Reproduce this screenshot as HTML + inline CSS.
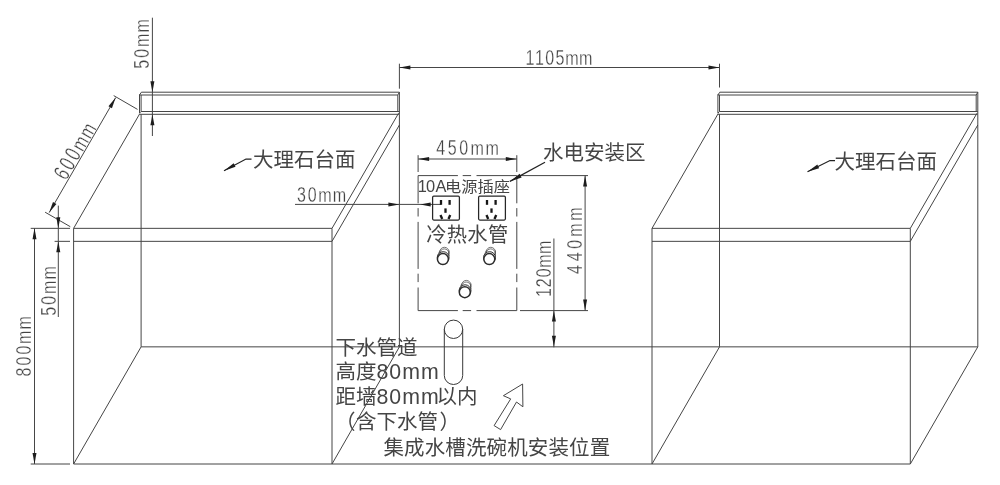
<!DOCTYPE html>
<html lang="zh"><head><meta charset="utf-8"><title>安装示意图</title>
<style>
html,body{margin:0;padding:0;background:#fff;}
body{width:1000px;height:485px;overflow:hidden;}
svg{display:block;filter:grayscale(1);}
text.c{font-family:"Liberation Sans","Noto Sans CJK SC",sans-serif;fill:#454545;}
text.d{font-family:"Liberation Sans",sans-serif;fill:#42424a;stroke:#fff;stroke-width:0.3px;paint-order:fill stroke;}
</style></head><body>
<svg width="1000" height="485" viewBox="0 0 1000 485">
<rect width="1000" height="485" fill="#fff"/>
<path d="M139.5,95.0 L141.4,92.2 H399.4 V114.3" stroke="#45454d" stroke-width="1.0" fill="none" />
<line x1="139.5" y1="95.0" x2="397.79999999999995" y2="95.0" stroke="#45454d" stroke-width="1.0" />
<line x1="139.5" y1="94.5" x2="139.5" y2="113.1" stroke="#45454d" stroke-width="1.0" />
<line x1="141.1" y1="95.0" x2="141.1" y2="111.5" stroke="#45454d" stroke-width="1.0" />
<line x1="397.79999999999995" y1="95.0" x2="397.79999999999995" y2="111.5" stroke="#45454d" stroke-width="1.0" />
<line x1="141.1" y1="111.5" x2="399.4" y2="111.5" stroke="#45454d" stroke-width="1.0" />
<line x1="139.5" y1="114.3" x2="399.4" y2="114.3" stroke="#45454d" stroke-width="1.0" />
<line x1="397.79999999999995" y1="95.0" x2="399.4" y2="92.2" stroke="#45454d" stroke-width="1.0" />
<line x1="139.5" y1="113.1" x2="141.1" y2="111.5" stroke="#45454d" stroke-width="1.0" />
<path d="M717.9,95.0 L719.8,92.2 H977.8 V114.3" stroke="#45454d" stroke-width="1.0" fill="none" />
<line x1="717.9" y1="95.0" x2="976.1999999999999" y2="95.0" stroke="#45454d" stroke-width="1.0" />
<line x1="717.9" y1="94.5" x2="717.9" y2="113.1" stroke="#45454d" stroke-width="1.0" />
<line x1="719.5" y1="95.0" x2="719.5" y2="111.5" stroke="#45454d" stroke-width="1.0" />
<line x1="976.1999999999999" y1="95.0" x2="976.1999999999999" y2="111.5" stroke="#45454d" stroke-width="1.0" />
<line x1="719.5" y1="111.5" x2="977.8" y2="111.5" stroke="#45454d" stroke-width="1.0" />
<line x1="717.9" y1="114.3" x2="977.8" y2="114.3" stroke="#45454d" stroke-width="1.0" />
<line x1="976.1999999999999" y1="95.0" x2="977.8" y2="92.2" stroke="#45454d" stroke-width="1.0" />
<line x1="717.9" y1="113.1" x2="719.5" y2="111.5" stroke="#45454d" stroke-width="1.0" />
<line x1="139.79999999999998" y1="113.6" x2="73.6" y2="228.35" stroke="#45454d" stroke-width="1.0" />
<line x1="73.6" y1="228.35" x2="332.0" y2="228.35" stroke="#45454d" stroke-width="1.0" />
<line x1="73.6" y1="241.35" x2="332.0" y2="241.35" stroke="#45454d" stroke-width="1.0" />
<line x1="73.6" y1="228.35" x2="73.6" y2="464.0" stroke="#45454d" stroke-width="1.0" />
<line x1="332.0" y1="228.35" x2="332.0" y2="464.0" stroke="#45454d" stroke-width="1.0" />
<line x1="398.59999999999997" y1="113.2" x2="332.0" y2="228.35" stroke="#45454d" stroke-width="1.0" />
<line x1="399.4" y1="125.0" x2="332.0" y2="241.35" stroke="#45454d" stroke-width="1.0" />
<line x1="141.1" y1="114.3" x2="141.1" y2="346.85" stroke="#45454d" stroke-width="1.0" />
<line x1="399.4" y1="114.3" x2="399.4" y2="346.85" stroke="#45454d" stroke-width="1.0" />
<line x1="141.1" y1="346.85" x2="73.6" y2="464.0" stroke="#45454d" stroke-width="1.0" />
<line x1="399.4" y1="346.85" x2="332.0" y2="464.0" stroke="#45454d" stroke-width="1.0" />
<line x1="718.2" y1="113.6" x2="652.0" y2="228.35" stroke="#45454d" stroke-width="1.0" />
<line x1="652.0" y1="228.35" x2="910.3" y2="228.35" stroke="#45454d" stroke-width="1.0" />
<line x1="652.0" y1="241.35" x2="910.3" y2="241.35" stroke="#45454d" stroke-width="1.0" />
<line x1="652.0" y1="228.35" x2="652.0" y2="464.0" stroke="#45454d" stroke-width="1.0" />
<line x1="910.3" y1="228.35" x2="910.3" y2="464.0" stroke="#45454d" stroke-width="1.0" />
<line x1="977.0" y1="113.2" x2="910.3" y2="228.35" stroke="#45454d" stroke-width="1.0" />
<line x1="977.8" y1="125.0" x2="910.3" y2="241.35" stroke="#45454d" stroke-width="1.0" />
<line x1="719.5" y1="114.3" x2="719.5" y2="346.85" stroke="#45454d" stroke-width="1.0" />
<line x1="977.8" y1="114.3" x2="977.8" y2="346.85" stroke="#45454d" stroke-width="1.0" />
<line x1="719.5" y1="346.85" x2="652.0" y2="464.0" stroke="#45454d" stroke-width="1.0" />
<line x1="977.8" y1="346.85" x2="910.3" y2="464.0" stroke="#45454d" stroke-width="1.0" />
<line x1="141.1" y1="346.85" x2="977.8" y2="346.85" stroke="#45454d" stroke-width="1.0" />
<line x1="73.6" y1="464.0" x2="910.3" y2="464.0" stroke="#45454d" stroke-width="1.0" />
<line x1="152.4" y1="17.7" x2="152.4" y2="136.0" stroke="#45454d" stroke-width="1.0" />
<polygon points="152.40,92.20 150.40,81.20 154.40,81.20" fill="#1c1c26"/>
<polygon points="152.40,114.30 154.40,125.30 150.40,125.30" fill="#1c1c26"/>
<g transform="translate(149.00,68.00) rotate(-90)"><text class="d" transform="scale(0.7,1)" font-size="22.9" x="-0.92 14.79" y="0">50</text><text class="d" transform="scale(0.783,1)" font-size="20.6" x="26.75 45.50" y="0">mm</text></g>
<line x1="49.2" y1="212.6" x2="115.7" y2="97.6" stroke="#45454d" stroke-width="1.0" />
<polygon points="115.70,97.60 111.93,108.13 108.47,106.13" fill="#1c1c26"/>
<polygon points="49.20,212.60 52.97,202.07 56.43,204.07" fill="#1c1c26"/>
<line x1="113.7" y1="95.6" x2="137.5" y2="109.4" stroke="#45454d" stroke-width="1.0" />
<line x1="45.1" y1="212.2" x2="70.3" y2="226.7" stroke="#45454d" stroke-width="1.0" />
<g transform="translate(66.60,180.50) rotate(-60)"><text class="d" transform="scale(0.7,1)" font-size="22.9" x="-1.16 14.73 30.74" y="0">600</text><text class="d" transform="scale(0.783,1)" font-size="20.6" x="41.23 60.19" y="0">mm</text></g>
<line x1="58.3" y1="205.6" x2="58.3" y2="317.0" stroke="#45454d" stroke-width="1.0" />
<polygon points="58.30,228.35 56.30,217.35 60.30,217.35" fill="#1c1c26"/>
<polygon points="58.30,241.35 60.30,252.35 56.30,252.35" fill="#1c1c26"/>
<line x1="30.7" y1="228.35" x2="70.0" y2="228.35" stroke="#45454d" stroke-width="1.0" />
<line x1="54.6" y1="241.35" x2="70.0" y2="241.35" stroke="#45454d" stroke-width="1.0" />
<g transform="translate(55.50,315.00) rotate(-90)"><text class="d" transform="scale(0.7,1)" font-size="22.9" x="-0.92 14.79" y="0">50</text><text class="d" transform="scale(0.783,1)" font-size="20.6" x="26.75 45.50" y="0">mm</text></g>
<line x1="34.5" y1="228.35" x2="34.5" y2="464.0" stroke="#45454d" stroke-width="1.0" />
<polygon points="34.50,228.35 36.50,239.35 32.50,239.35" fill="#1c1c26"/>
<polygon points="34.50,464.00 32.50,453.00 36.50,453.00" fill="#1c1c26"/>
<line x1="30.7" y1="464.0" x2="70.0" y2="464.0" stroke="#45454d" stroke-width="1.0" />
<g transform="translate(31.00,375.70) rotate(-90)"><text class="d" transform="scale(0.7,1)" font-size="22.9" x="-1.00 14.58 30.26" y="0">800</text><text class="d" transform="scale(0.783,1)" font-size="20.6" x="40.50 59.17" y="0">mm</text></g>
<line x1="399.4" y1="63.7" x2="399.4" y2="88.7" stroke="#45454d" stroke-width="1.0" />
<line x1="719.5" y1="63.7" x2="719.5" y2="87.5" stroke="#45454d" stroke-width="1.0" />
<line x1="399.4" y1="67.5" x2="719.5" y2="67.5" stroke="#45454d" stroke-width="1.0" />
<polygon points="399.40,67.50 410.40,65.50 410.40,69.50" fill="#1c1c26"/>
<polygon points="719.50,67.50 708.50,69.50 708.50,65.50" fill="#1c1c26"/>
<g transform="translate(526.70,64.50) rotate(0)"><text class="d" transform="scale(0.7,1)" font-size="22.9" x="-1.74 11.87 26.34 41.01" y="0">1105</text><text class="d" transform="scale(0.783,1)" font-size="20.6" x="49.17 66.96" y="0">mm</text></g>
<line x1="418.1" y1="155.2" x2="418.1" y2="172.0" stroke="#45454d" stroke-width="1.0" />
<line x1="516.8" y1="155.2" x2="516.8" y2="172.0" stroke="#45454d" stroke-width="1.0" />
<line x1="418.1" y1="159.0" x2="516.8" y2="159.0" stroke="#45454d" stroke-width="1.0" />
<polygon points="418.10,159.00 429.10,157.00 429.10,161.00" fill="#1c1c26"/>
<polygon points="516.80,159.00 505.80,161.00 505.80,157.00" fill="#1c1c26"/>
<g transform="translate(436.50,155.20) rotate(0)"><text class="d" transform="scale(0.7,1)" font-size="22.9" x="-0.53 16.18 32.61" y="0">450</text><text class="d" transform="scale(0.783,1)" font-size="20.6" x="43.34 62.74" y="0">mm</text></g>
<line x1="295.0" y1="204.4" x2="441.0" y2="204.4" stroke="#45454d" stroke-width="1.0" />
<polygon points="399.40,204.40 388.40,206.40 388.40,202.40" fill="#1c1c26"/>
<polygon points="420.20,204.40 430.70,202.40 430.70,206.40" fill="#1c1c26"/>
<g transform="translate(297.50,201.60) rotate(0)"><text class="d" transform="scale(0.7,1)" font-size="22.9" x="-0.87 14.65" y="0">30</text><text class="d" transform="scale(0.783,1)" font-size="20.6" x="26.50 45.12" y="0">mm</text></g>
<line x1="518.6" y1="175.6" x2="588.0" y2="175.6" stroke="#45454d" stroke-width="1.0" />
<line x1="520.0" y1="310.6" x2="588.0" y2="310.6" stroke="#45454d" stroke-width="1.0" />
<line x1="585.1" y1="175.6" x2="585.1" y2="310.6" stroke="#45454d" stroke-width="1.0" />
<polygon points="585.10,175.60 587.10,186.60 583.10,186.60" fill="#1c1c26"/>
<polygon points="585.10,310.60 583.10,299.60 587.10,299.60" fill="#1c1c26"/>
<g transform="translate(581.60,273.60) rotate(-90)"><text class="d" transform="scale(0.7,1)" font-size="22.9" x="-0.53 17.72 35.60" y="0">440</text><text class="d" transform="scale(0.783,1)" font-size="20.6" x="47.04 67.47" y="0">mm</text></g>
<line x1="553.9" y1="238.5" x2="553.9" y2="347.3" stroke="#45454d" stroke-width="1.0" />
<polygon points="553.90,310.60 555.90,321.60 551.90,321.60" fill="#1c1c26"/>
<polygon points="553.90,346.85 551.90,335.85 555.90,335.85" fill="#1c1c26"/>
<g transform="translate(550.80,295.70) rotate(-90)"><text class="d" transform="scale(0.7,1)" font-size="22.9" x="-1.74 12.16 26.28" y="0">120</text><text class="d" transform="scale(0.783,1)" font-size="20.6" x="35.79 53.29" y="0">mm</text></g>
<line x1="418.1" y1="175.6" x2="516.8" y2="175.6" stroke="#45454d" stroke-width="1" stroke-dasharray="47 4.8 8.4 5.4" stroke-dashoffset="7.2"/>
<line x1="418.1" y1="310.6" x2="516.8" y2="310.6" stroke="#45454d" stroke-width="1" stroke-dasharray="47 4.8 8.4 5.4" stroke-dashoffset="7.2"/>
<line x1="418.1" y1="175.6" x2="418.1" y2="310.6" stroke="#45454d" stroke-width="1" stroke-dasharray="47 4.8 8.4 5.4" stroke-dashoffset="19.3"/>
<line x1="516.8" y1="175.6" x2="516.8" y2="310.6" stroke="#45454d" stroke-width="1" stroke-dasharray="47 4.8 8.4 5.4" stroke-dashoffset="19.3"/>
<rect x="432.6" y="196.2" width="26.8" height="23.8" rx="1.2" fill="none" stroke="#26262e" stroke-width="1.25"/>
<line x1="441.0" y1="200.0" x2="441.0" y2="204.8" stroke="#15151c" stroke-width="2.3" />
<line x1="449.6" y1="200.0" x2="449.6" y2="204.8" stroke="#15151c" stroke-width="2.3" />
<line x1="445.5" y1="208.4" x2="445.5" y2="212.8" stroke="#15151c" stroke-width="2.3" />
<line x1="440.5" y1="215.0" x2="442.20000000000005" y2="219.0" stroke="#15151c" stroke-width="2.3" />
<line x1="450.20000000000005" y1="215.0" x2="448.5" y2="219.0" stroke="#15151c" stroke-width="2.3" />
<rect x="478.6" y="196.2" width="26.8" height="23.8" rx="1.2" fill="none" stroke="#26262e" stroke-width="1.25"/>
<line x1="487.0" y1="200.0" x2="487.0" y2="204.8" stroke="#15151c" stroke-width="2.3" />
<line x1="495.6" y1="200.0" x2="495.6" y2="204.8" stroke="#15151c" stroke-width="2.3" />
<line x1="491.5" y1="208.4" x2="491.5" y2="212.8" stroke="#15151c" stroke-width="2.3" />
<line x1="486.5" y1="215.0" x2="488.20000000000005" y2="219.0" stroke="#15151c" stroke-width="2.3" />
<line x1="496.20000000000005" y1="215.0" x2="494.5" y2="219.0" stroke="#15151c" stroke-width="2.3" />
<circle cx="444.40" cy="251.90" r="4.6" fill="none" stroke="#4a4a54" stroke-width="0.75"/>
<circle cx="444.30" cy="253.40" r="4.5" fill="none" stroke="#4a4a54" stroke-width="0.75"/>
<line x1="439.90" y1="250.50" x2="437.30" y2="256.40" stroke="#4a4a54" stroke-width="0.75" />
<line x1="448.90" y1="250.50" x2="449.10" y2="256.10" stroke="#4a4a54" stroke-width="0.75" />
<circle cx="443.20" cy="257.60" r="5.9" fill="#fff" stroke="#2a2a34" stroke-width="1.0"/>
<circle cx="442.90" cy="259.10" r="5.5" fill="#fff" stroke="#2a2a34" stroke-width="1.5"/>
<circle cx="490.80" cy="251.90" r="4.6" fill="none" stroke="#4a4a54" stroke-width="0.75"/>
<circle cx="490.70" cy="253.40" r="4.5" fill="none" stroke="#4a4a54" stroke-width="0.75"/>
<line x1="486.30" y1="250.50" x2="483.70" y2="256.40" stroke="#4a4a54" stroke-width="0.75" />
<line x1="495.30" y1="250.50" x2="495.50" y2="256.10" stroke="#4a4a54" stroke-width="0.75" />
<circle cx="489.60" cy="257.60" r="5.9" fill="#fff" stroke="#2a2a34" stroke-width="1.0"/>
<circle cx="489.30" cy="259.10" r="5.5" fill="#fff" stroke="#2a2a34" stroke-width="1.5"/>
<circle cx="466.30" cy="285.00" r="4.6" fill="none" stroke="#4a4a54" stroke-width="0.75"/>
<circle cx="466.20" cy="286.50" r="4.5" fill="none" stroke="#4a4a54" stroke-width="0.75"/>
<line x1="461.80" y1="283.60" x2="459.20" y2="289.50" stroke="#4a4a54" stroke-width="0.75" />
<line x1="470.80" y1="283.60" x2="471.00" y2="289.20" stroke="#4a4a54" stroke-width="0.75" />
<circle cx="465.10" cy="290.70" r="5.9" fill="#fff" stroke="#2a2a34" stroke-width="1.0"/>
<circle cx="464.80" cy="292.20" r="5.5" fill="#fff" stroke="#2a2a34" stroke-width="1.5"/>
<circle cx="453.5" cy="329.3" r="9.2" fill="none" stroke="#383842" stroke-width="1"/>
<path d="M444.3,329.3 V375.5 A9.2,9.0 0 0 0 462.7,375.5 V329.3" stroke="#383842" stroke-width="1" fill="none" />
<path d="M522.6,384 L503.4,395.7 L510.7,398.9 L494.1,425.6 L500.6,429.6 L516.5,402 L522.9,406.8 Z" stroke="#45454d" stroke-width="1.0" fill="none" />
<path d="M251.5,159 H246 L224,170.7" stroke="#20202c" stroke-width="1.25" fill="none" />
<polygon points="224.00,170.70 233.66,163.30 235.53,166.83" fill="#1c1c26"/>
<path d="M835,160.5 H830 L807.5,171.7" stroke="#20202c" stroke-width="1.25" fill="none" />
<polygon points="807.50,171.70 817.35,164.56 819.13,168.14" fill="#1c1c26"/>
<line x1="545" y1="162.3" x2="509.9" y2="181.4" stroke="#20202c" stroke-width="1.25" />
<polygon points="509.90,181.40 519.62,173.73 521.62,177.42" fill="#1c1c26"/>
<text class="c" x="253.0" y="167.0" font-size="20.5" >大理石台面</text>
<text class="c" x="834.5" y="168.7" font-size="20.5" >大理石台面</text>
<text class="c" x="543.0" y="159.6" font-size="20.5" >水电安装区</text>
<text class="c" font-size="16.4" x="417.65 426.06 435.6" y="192.0">10A</text><text class="c" transform="translate(445.1,191.8) scale(1.062,1)" font-size="15.3" x="0" y="0">电源插座</text>
<text class="c" x="426.3" y="242.3" font-size="20.3" letter-spacing="0.25">冷热水管</text>
<text class="c" x="335.5" y="355.3" font-size="20.5" >下水管道</text>
<text class="c" x="335.5" y="379.0" font-size="20.5">高度<tspan font-size="21.3" letter-spacing="1.0">80mm</tspan></text>
<text class="c" x="335.5" y="403.8" font-size="20.5">距墙<tspan font-size="21.3" letter-spacing="1.0">80m</tspan><tspan font-size="21.3">m</tspan><tspan dx="-2.1">以内</tspan></text>
<text class="c" x="335.0" y="428.6" font-size="20.5">（<tspan dx="0.5">含下水管</tspan><tspan dx="1.4">）</tspan></text>
<text class="c" x="383.5" y="455.0" font-size="20.5" letter-spacing="0.12">集成水槽洗碗机安装位置</text>
</svg>
</body></html>
